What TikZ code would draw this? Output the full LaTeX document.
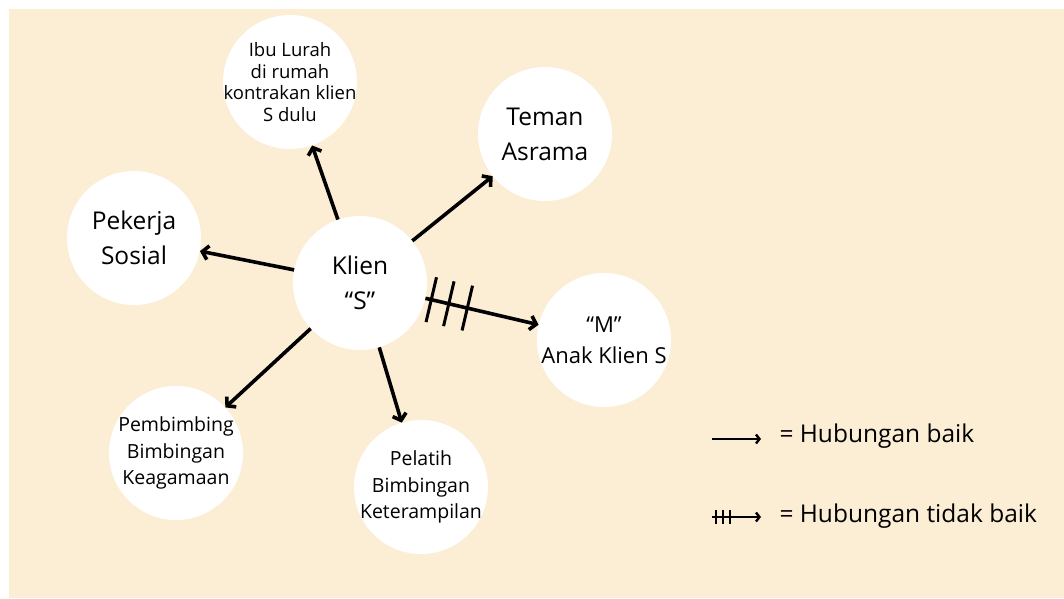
\documentclass[tikz,border=0pt]{standalone}
\usepackage{fontspec}
\setmainfont{Open Sans}
\usepackage{xcolor}
\usetikzlibrary{arrows.meta, decorations.markings}
\definecolor{paper}{HTML}{FCEDD5}

\begin{document}
\begin{tikzpicture}[
        x=1pt, y=-1pt,
        bubble/.style={circle, fill=white, minimum size=134pt, inner sep=-14pt, align=center},
        bigtext/.style={font=\fontsize{24.5}{35}\selectfont},
        midtext/.style={font=\fontsize{22}{31}\selectfont},
        smalltext/.style={font=\fontsize{19.5}{26.5}\selectfont},
        tinytext/.style={font=\fontsize{18.5}{21.5}\selectfont},
        link/.style={line width=3.6pt, -{Straight Barb[length=6pt, width=14pt]}},
        badlink/.style={link, postaction={decorate}, decoration={markings,
            mark=at position 6pt with {\draw[-, line width=3pt] (0,-23pt) -- (0,23pt);},
            mark=at position 24pt with {\draw[-, line width=3pt] (0,-23pt) -- (0,23pt);},
            mark=at position 43pt with {\draw[-, line width=3pt] (0,-23pt) -- (0,23pt);}}},
        keylink/.style={line width=2.4pt, -{Straight Barb[length=3.5pt, width=9pt]}},
        badkeylink/.style={keylink, postaction={decorate}, decoration={markings,
            mark=at position 4pt with {\draw[-, line width=2.2pt] (0,-7pt) -- (0,7pt);},
            mark=at position 11pt with {\draw[-, line width=2.2pt] (0,-7pt) -- (0,7pt);},
            mark=at position 18pt with {\draw[-, line width=2.2pt] (0,-7pt) -- (0,7pt);}}}
    ]
    \useasboundingbox (0,0) rectangle (1064,598);
    \fill[white] (0,0) rectangle (1064,598);
    \fill[paper] (9,9) rectangle (1064,598);

    % client and the people around
    \node (klien) [bubble, bigtext] at (360,283) {Klien\\“S”};
    \node (ibu) [bubble, tinytext] at (290,82) {Ibu Lurah\\di rumah\\kontrakan klien\\S dulu};
    \node (teman) [bubble, bigtext] at (545,134) {Teman\\Asrama};
    \node (pekerja) [bubble, bigtext] at (134,238) {Pekerja\\Sosial};
    \node (anak) [bubble, midtext] at (604,340) {“M”\\Anak Klien S};
    \node (pembimbing) [bubble, smalltext] at (176,453) {Pembimbing\\Bimbingan\\Keagamaan};
    \node (pelatih) [bubble, smalltext] at (421,487) {Pelatih\\Bimbingan\\Keterampilan};

    % relations
    \draw[link] (klien) -- (ibu);
    \draw[link] (klien) -- (teman);
    \draw[link] (klien) -- (pekerja);
    \draw[link] (klien) -- (pembimbing);
    \draw[link] (klien) -- (pelatih);
    \draw[badlink] (klien) -- (anak);

    % legend
    \coordinate (good-a) at (712,439);
    \coordinate (good-b) at (761,439);
    \draw[keylink] (good-a) -- (good-b);
    \node (good-t) [bigtext, anchor=west] at (776,436) {= Hubungan baik};
    \coordinate (bad-a) at (712,517);
    \coordinate (bad-b) at (761,517);
    \draw[badkeylink] (bad-a) -- (bad-b);
    \node (bad-t) [bigtext, anchor=west] at (776,516) {= Hubungan tidak baik};
\end{tikzpicture}
\end{document}
